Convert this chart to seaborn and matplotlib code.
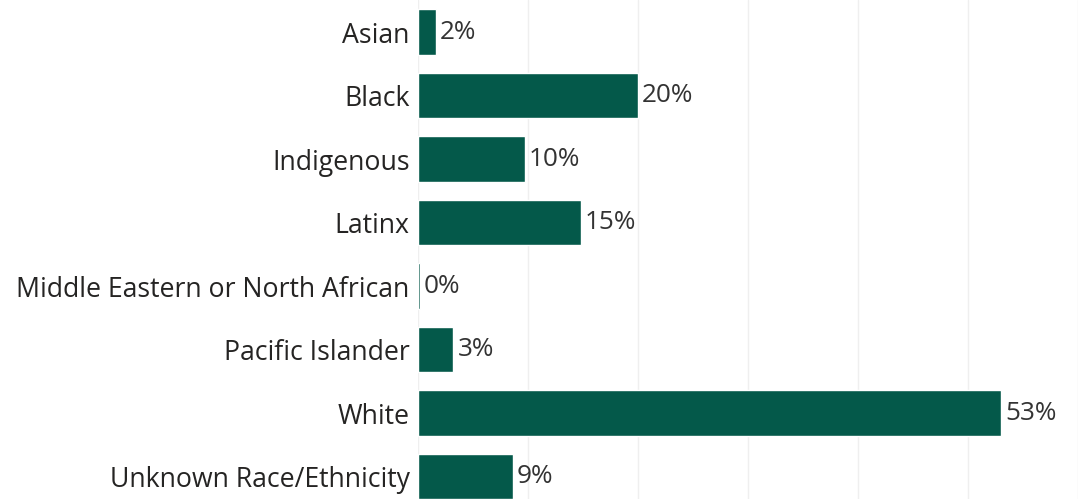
import matplotlib
matplotlib.use('Agg')
import matplotlib.pyplot as plt
import seaborn as sns
import pandas as pd

# data (percent)
groups = ['Asian', 'Black', 'Indigenous', 'Latinx', 'Middle Eastern or North African',
          'Pacific Islander', 'White', 'Unknown Race/Ethnicity']
shares = [1.6, 20.0, 9.7, 14.8, 0.15, 3.2, 53.0, 8.6]
labels = ['2%', '20%', '10%', '15%', '0%', '3%', '53%', '9%']

df = pd.DataFrame({'group': groups, 'share': shares})

sns.set_style('white')
plt.rcParams['font.family'] = ['Open Sans', 'DejaVu Sans']

fig = plt.figure(figsize=(10.84, 4.99), dpi=100)
ax = fig.add_axes([418 / 1084, 0, (1078 - 418) / 1084, 1])

sns.barplot(data=df, x='share', y='group', orient='h', color='#04594A',
            saturation=1, width=0.71, ax=ax)

ax.bar_label(ax.containers[0], labels=labels, padding=3, fontsize=18.8, color='#333333')

ax.set_xlim(0, 60)
ax.set_ylim(7.354, -0.504)
ax.set_xticks([0, 10, 20, 30, 40, 50, 60])
ax.xaxis.grid(True, color='#efefef', linewidth=1)
ax.set_axisbelow(True)
ax.set_xlabel('')
ax.set_ylabel('')
ax.set_xticklabels([])
ax.tick_params(axis='x', length=0)
ax.tick_params(axis='y', length=0, labelsize=19.2, labelcolor='#252423', pad=6)
for s in ax.spines.values():
    s.set_visible(False)

fig.savefig('out.png', dpi=100)
